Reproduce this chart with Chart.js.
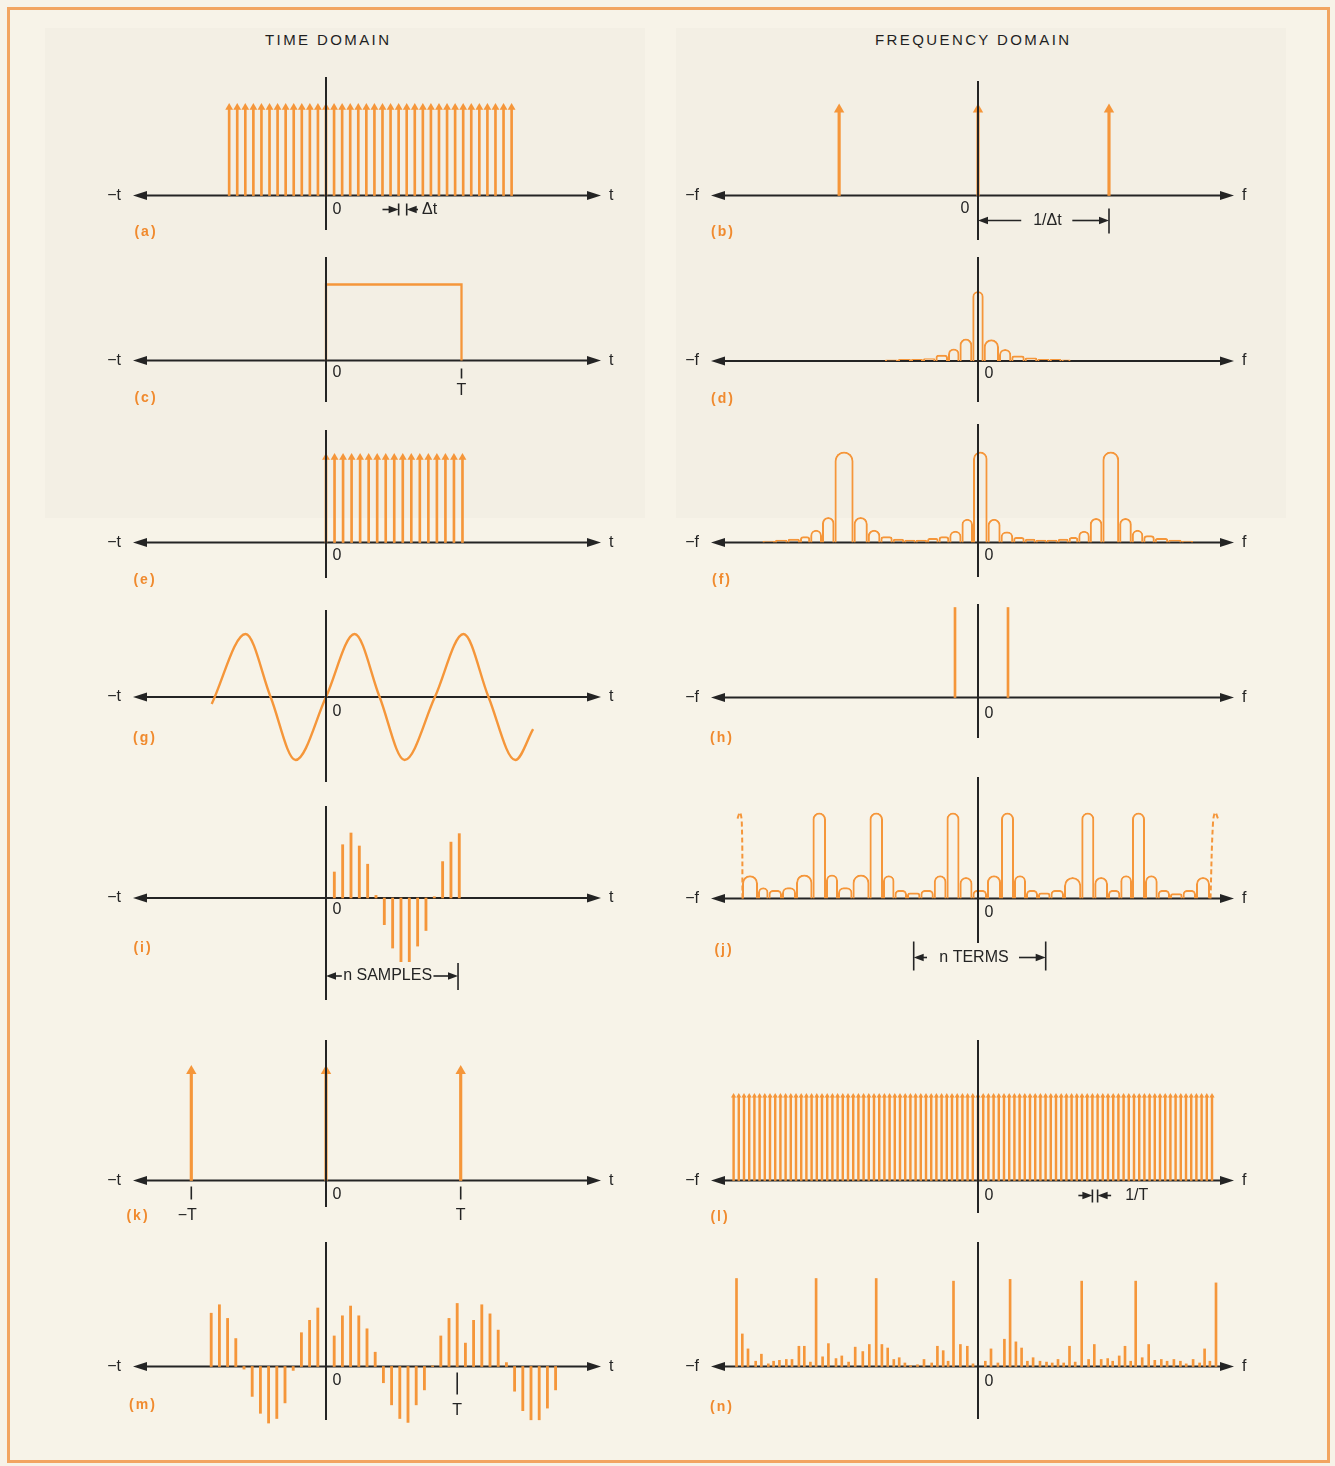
<!DOCTYPE html>
<html>
<head>
<meta charset="utf-8">
<script src="https://cdn.jsdelivr.net/npm/chart.js@4.4.0/dist/chart.umd.min.js"></script>
<style>
body { margin: 0; background: #fdfcf8; }
#page { position: relative; width: 1335px; height: 1466px; background: #f7f3e8; overflow: hidden; }
#frame { position: absolute; left: 7px; top: 7px; width: 1317px; height: 1450px; border: 3px solid #f2a561; }
.shade { position: absolute; background: rgba(90, 90, 80, 0.025); }
.title { position: absolute; top: 31px; font: 15px 'Liberation Sans', Arial, sans-serif; letter-spacing: 2.4px; color: #1f1f1f; white-space: nowrap; }
canvas { position: absolute; }
</style>
</head>
<body>
<div id="page">
  <div class="shade" style="left:45px;top:28px;width:600px;height:490px"></div>
  <div class="shade" style="left:676px;top:28px;width:610px;height:490px"></div>
  <div id="frame"></div>
  <div class="title" style="left:265px">TIME DOMAIN</div>
  <div class="title" style="left:875px">FREQUENCY DOMAIN</div>
</div>
<script>
// ---- values ----
// x values are in each panel's own unit (Δt, 1/Δt, T, 1/T or 10px lobe units), y values are normalised heights

// (a) sampling comb
const aTimes = [-12,-11,-10,-9,-8,-7,-6,-5,-4,-3,-2,-1,0,1,2,3,4,5,6,7,8,9,10,11,12,13,14,15,16,17,18,19,20,21,22,23]
const aHeight = 1
// (b) transform of the comb
const bFreqs = [-1.06, 0, 1]
const bHeights = [1, 1, 1]
// (c) rectangular window 0..T
const cTimes = [0, 0, 1, 1]
const cValues = [0, 1, 1, 0]
// (d) window transform: zeros between lobes and the height of each lobe
const dZeros = [-9.3, -8.0, -6.7, -5.5, -4.25, -3.0, -1.85, -0.57, 0.57, 2.1, 3.33, 4.67, 5.93, 7.17, 8.35, 9.26]
const dPeaks = [0.02, 0.03, 0.03, 0.04, 0.09, 0.18, 0.32, 1, 0.31, 0.17, 0.08, 0.05, 0.03, 0.03, 0.02]
// (e) windowed comb
const eTimes = [0,1,2,3,4,5,6,7,8,9,10,11,12,13,14,15,16]
const eHeight = 1
// (f) transform of the windowed comb
const fZeros = [-21.55, -20.3, -19.05, -17.8, -16.78, -15.6, -14.35, -12.44, -11.02, -9.76, -8.53, -7.38, -6.23, -5.09, -3.94, -2.87, -1.65, -0.5, 0.96, 2.26, 3.52, 4.67, 5.77, 6.87, 7.97, 9.07, 10.03, 11.18, 12.44, 14.12, 15.38, 16.53, 17.68, 19.02, 20.36, 21.51]
const fPeaks = [0.02, 0.03, 0.04, 0.07, 0.14, 0.28, 1, 0.28, 0.14, 0.07, 0.04, 0.03, 0.03, 0.05, 0.07, 0.13, 0.26, 1, 0.26, 0.12, 0.06, 0.04, 0.03, 0.03, 0.04, 0.06, 0.13, 0.27, 1, 0.27, 0.14, 0.08, 0.05, 0.03, 0.02]
// (g) sine wave: extremes and zero crossings
const gTimes = [-11.43, -8.04, -5.54, -3.04, 0, 2.86, 5.36, 7.86, 10.89, 13.75, 16.25, 18.93, 20.71]
const gValues = [-0.11, 1, 0, -1, 0, 1, 0, -1, 0, 1, 0, -1, -0.51]
// (h) its two spectral lines
const hFreqs = [-2.3, 3.0]
const hHeights = [1, 1]
// (i) n samples of the sine
const iTimes = [1,2,3,4,5,6,7,8,9,10,11,12,13,14,15,16]
const iValues = [0.4, 0.82, 1.0, 0.8, 0.52, 0.04, -0.41, -0.77, -0.98, -0.98, -0.74, -0.5, 0.02, 0.56, 0.86, 0.99]
// (j) transform of the sampled, windowed sine
const jZeros = [-23.6, -22.0, -20.95, -19.6, -18.2, -16.55, -15.2, -14.0, -12.55, -10.85, -9.5, -8.35, -7.1, -5.76, -4.42, -3.15, -1.85, -0.55, 0.9, 2.3, 3.6, 4.8, 6.0, 7.25, 8.6, 10.33, 11.63, 13.0, 14.23, 15.4, 16.7, 17.97, 19.2, 20.46, 21.8, 23.2]
const jPeaks = [0.27, 0.13, 0.1, 0.13, 0.28, 1, 0.28, 0.13, 0.28, 1, 0.27, 0.1, 0.07, 0.1, 0.27, 1, 0.25, 0.1, 0.27, 1, 0.27, 0.1, 0.07, 0.1, 0.25, 1, 0.25, 0.1, 0.27, 1, 0.27, 0.1, 0.06, 0.1, 0.25]
const jDashLeftFreqs = [-23.55, -23.62, -23.8, -24.05]
const jDashLeftValues = [0, 0.88, 1.0, 0.93]
const jDashRightFreqs = [23.25, 23.5, 23.72, 24.0]
const jDashRightValues = [0, 0.88, 1.0, 0.93]
// (k) period comb
const kTimes = [-1, 0, 1]
const kHeights = [1, 1, 1]
// (l) frequency comb, spacing 1/T
const lFreqs = [-47,-46,-45,-44,-43,-42,-41,-40,-39,-38,-37,-36,-35,-34,-33,-32,-31,-30,-29,-28,-27,-26,-25,-24,-23,-22,-21,-20,-19,-18,-17,-16,-15,-14,-13,-12,-11,-10,-9,-8,-7,-6,-5,-4,-3,-2,-1,0,1,2,3,4,5,6,7,8,9,10,11,12,13,14,15,16,17,18,19,20,21,22,23,24,25,26,27,28,29,30,31,32,33,34,35,36,37,38,39,40,41,42,43,44,45]
const lHeight = 1
// (m) periodic sampled signal
const mTimes = [-14,-13,-12,-11,-10,-9,-8,-7,-6,-5,-4,-3,-2,-1,1,2,3,4,5,6,7,8,9,10,11,12,13,14,15,16,17,18,19,20,21,22,23,24,25,26,27,28]
const mValues = [0.82, 0.95, 0.74, 0.43, -0.04, -0.46, -0.72, -0.87, -0.8, -0.56, -0.06, 0.52, 0.71, 0.9, 0.47, 0.78, 0.93, 0.78, 0.58, 0.22, -0.25, -0.59, -0.8, -0.86, -0.59, -0.36, 0.01, 0.47, 0.74, 0.97, 0.36, 0.71, 0.95, 0.81, 0.56, 0.06, -0.38, -0.68, -0.82, -0.82, -0.64, -0.36]
// (n) discrete transform
const nFreqs = [-24.15, -23.57, -23.0, -22.23, -21.66, -20.97, -20.44, -19.86, -19.17, -18.6, -17.91, -17.37, -16.76, -16.19, -15.54, -14.96, -14.2, -13.62, -12.94, -12.28, -11.52, -10.87, -10.18, -9.61, -9.03, -8.42, -7.88, -7.31, -6.74, -6.05, -5.4, -4.63, -4.06, -3.48, -2.99, -2.45, -1.76, -1.07, -0.5, 0.73, 1.3, 1.99, 2.64, 3.21, 3.79, 4.36, 4.94, 5.51, 6.2, 6.85, 7.42, 8.0, 8.57, 9.15, 9.72, 10.37, 11.06, 11.63, 12.32, 12.97, 13.47, 14.12, 14.7, 15.27, 15.77, 16.42, 17.07, 17.68, 18.33, 18.91, 19.59, 20.24, 20.82, 21.51, 22.16, 22.66, 23.19, 23.8]
const nValues = [1.0, 0.37, 0.2, 0.06, 0.14, 0.03, 0.06, 0.07, 0.08, 0.08, 0.23, 0.23, 0.05, 1.0, 0.11, 0.26, 0.09, 0.12, 0.05, 0.22, 0.17, 0.25, 1.0, 0.25, 0.21, 0.08, 0.1, 0.04, 0.01, 0.02, 0.08, 0.04, 0.23, 0.18, 0.06, 0.97, 0.25, 0.23, 0.03, 0.06, 0.2, 0.04, 0.31, 0.99, 0.28, 0.21, 0.06, 0.1, 0.06, 0.05, 0.04, 0.08, 0.04, 0.23, 0.05, 0.97, 0.08, 0.25, 0.08, 0.09, 0.06, 0.12, 0.23, 0.06, 0.97, 0.1, 0.25, 0.07, 0.08, 0.06, 0.08, 0.06, 0.03, 0.08, 0.04, 0.2, 0.06, 0.95]

// text
const timeAxisLabels = ['\u2212t', 't']
const freqAxisLabels = ['\u2212f', 'f']
const zeroLabel = '0'
const panelLetters = ['(a)','(b)','(c)','(d)','(e)','(f)','(g)','(h)','(i)','(j)','(k)','(l)','(m)','(n)']
const markLabels = ['\u0394t', '1/\u0394t', 'T', 'n SAMPLES', 'n TERMS', '\u2212T', '1/T']

// ---- styles ----
const orange = '#f5963a'
const ink = '#242424'
const letterColor = '#f08a2e'
const labelFont = "16px 'Liberation Sans', Arial, sans-serif"
const letterFont = "bold 14px 'Liberation Sans', Arial, sans-serif"

const page = document.getElementById('page')

// page position of each column: canvas box, arrow tips, vertical axis
const columns = [
    { x: 80, w: 560, L: 133, R: 601, axisX: 326 },
    { x: 660, w: 610, L: 711, R: 1234, axisX: 978 }
]

const arrowHead = (ctx, x, y, dir, len, half) => {
    ctx.beginPath()
    ctx.moveTo(x, y)
    ctx.lineTo(x - dir * len, y - half)
    ctx.lineTo(x - dir * len, y + half)
    ctx.closePath()
    ctx.fill()
}

const axesPlugin = (p, index) => ({
    id: 'axes' + index,
    beforeDatasetsDraw(chart) {
        const { ctx, chartArea: a, scales } = chart
        const y0 = scales.y.getPixelForValue(0)
        ctx.save()
        ctx.strokeStyle = ink
        ctx.fillStyle = ink
        ctx.lineWidth = 2
        ctx.beginPath()
        ctx.moveTo(a.left + 10, y0)
        ctx.lineTo(a.right - 10, y0)
        ctx.stroke()
        arrowHead(ctx, a.left, y0, -1, 14, 4.5)
        arrowHead(ctx, a.right, y0, 1, 14, 4.5)
        ctx.restore()
    },
    afterDatasetsDraw(chart) {
        const { ctx, chartArea: a, scales } = chart
        const col = columns[p.col]
        const x0 = scales.x.getPixelForValue(0)
        const y0 = scales.y.getPixelForValue(0)
        const names = p.col ? freqAxisLabels : timeAxisLabels
        ctx.save()
        ctx.strokeStyle = ink
        ctx.fillStyle = ink
        ctx.lineWidth = 2
        ctx.beginPath()
        ctx.moveTo(x0, a.top)
        ctx.lineTo(x0, a.bottom)
        ctx.stroke()

        ctx.font = labelFont
        ctx.textBaseline = 'middle'
        ctx.textAlign = 'right'
        ctx.fillText(names[0], a.left - 12, y0)
        ctx.textAlign = 'left'
        ctx.fillText(names[1], a.right + 8, y0)
        ctx.textAlign = 'center'
        ctx.fillText(zeroLabel, x0 + (p.zeroDx || 11), y0 + p.zeroDy)

        ctx.lineWidth = 1.6
        ;(p.notes || []).forEach(n => {
            const x = scales.x.getPixelForValue(n.x)
            if (n.kind === 'tick') {
                ctx.beginPath()
                ctx.moveTo(x, y0 + n.dy0)
                ctx.lineTo(x, y0 + n.dy1)
                ctx.stroke()
            } else if (n.kind === 'arrow') {
                const x1 = scales.x.getPixelForValue(n.to)
                const dir = x1 > x ? 1 : -1
                ctx.beginPath()
                ctx.moveTo(x, y0 + n.dy)
                ctx.lineTo(x1 - dir * 8, y0 + n.dy)
                ctx.stroke()
                arrowHead(ctx, x1, y0 + n.dy, dir, 10, 3.8)
            } else {
                ctx.textAlign = n.align || 'center'
                ctx.fillText(markLabels[n.label], x + (n.dx || 0), y0 + n.dy)
            }
        })

        ctx.fillStyle = letterColor
        ctx.font = letterFont
        ctx.letterSpacing = '2px'
        ctx.textAlign = 'center'
        ctx.fillText(panelLetters[index], p.letterX - col.x, y0 + p.letterDy)
        ctx.restore()
    }
})

// ---- dataset builders ----
const pairs = (xs, ys) => xs.map((x, i) => ({ x, y: Array.isArray(ys) ? ys[i] : ys }))

const stems = (xs, ys, width) => ({
    type: 'bar',
    data: pairs(xs, ys),
    backgroundColor: orange,
    borderWidth: 0,
    barThickness: width,
    order: 2,
    clip: false
})

const heads = (xs, ys, r) => ({
    type: 'line',
    data: pairs(xs, ys),
    showLine: false,
    pointStyle: 'triangle',
    pointRadius: r,
    pointBackgroundColor: orange,
    pointBorderWidth: 0,
    order: 1,
    clip: false
})

const curve = (xs, ys, extra) => Object.assign({
    type: 'line',
    data: pairs(xs, ys),
    borderColor: orange,
    borderWidth: 2.3,
    pointRadius: 0,
    tension: 0,
    clip: false
}, extra)

// each lobe is an open arch standing between two zeros: an outlined bar with a round top
const lobes = (zeros, peaks, xUnit) => peaks.map((h, i) => ({
    type: 'bar',
    data: [{ x: (zeros[i] + zeros[i + 1]) / 2, y: h }],
    barThickness: (zeros[i + 1] - zeros[i]) * xUnit,
    backgroundColor: 'rgba(0,0,0,0)',
    borderColor: orange,
    borderWidth: 2,
    borderSkipped: 'bottom',
    borderRadius: 999,
    inflateAmount: 0,
    clip: false
}))

// ---- panel layout (page pixels) ----
const panels = [
    { col: 0, axisY: 195.5, vTop: 77, vBot: 230, xUnit: 8.07, yUnit: 88, zeroDy: 14, letterX: 146, letterDy: 37,
      datasets: p => [heads(aTimes, aHeight, 4.5), stems(aTimes, aHeight, 2)],
      notes: [
        { kind: 'tick', x: 9, dy0: 8, dy1: 20 }, { kind: 'tick', x: 10, dy0: 8, dy1: 20 },
        { kind: 'arrow', x: 7.0, to: 9, dy: 14 }, { kind: 'arrow', x: 11.4, to: 10, dy: 14 },
        { kind: 'text', x: 11.9, dy: 14, label: 0, align: 'left' }
      ] },
    { col: 1, axisY: 195.5, vTop: 81, vBot: 240, xUnit: 131, yUnit: 86, zeroDx: -13, zeroDy: 13, letterX: 723, letterDy: 37,
      datasets: p => [heads(bFreqs, bHeights, 6), stems(bFreqs, bHeights, 2.5)],
      notes: [
        { kind: 'tick', x: 1, dy0: 13, dy1: 38 },
        { kind: 'arrow', x: 0.33, to: 0, dy: 25 }, { kind: 'arrow', x: 0.72, to: 1, dy: 25 },
        { kind: 'text', x: 0.53, dy: 25, label: 1 }
      ] },
    { col: 0, axisY: 360.5, vTop: 257, vBot: 402, xUnit: 135.5, yUnit: 76, zeroDy: 12, letterX: 146, letterDy: 38,
      datasets: p => [curve(cTimes, cValues)],
      notes: [ { kind: 'tick', x: 1, dy0: 8, dy1: 18 }, { kind: 'text', x: 1, dy: 30, label: 2 } ] },
    { col: 1, axisY: 361, vTop: 257, vBot: 402, xUnit: 10, yUnit: 70, zeroDy: 13, letterX: 723, letterDy: 38,
      datasets: p => lobes(dZeros, dPeaks, p.xUnit) },
    { col: 0, axisY: 542.5, vTop: 430, vBot: 578, xUnit: 8.53, yUnit: 85, zeroDy: 13, letterX: 145, letterDy: 38,
      datasets: p => [heads(eTimes, eHeight, 4.5), stems(eTimes, eHeight, 2)] },
    { col: 1, axisY: 542.5, vTop: 424, vBot: 577, xUnit: 10, yUnit: 91, zeroDy: 13, letterX: 722, letterDy: 38,
      datasets: p => lobes(fZeros, fPeaks, p.xUnit) },
    { col: 0, axisY: 697, vTop: 610, vBot: 782, xUnit: 10, yUnit: 63, zeroDy: 15, letterX: 145, letterDy: 41,
      datasets: p => [curve(gTimes, gValues, { cubicInterpolationMode: 'monotone', borderWidth: 2.4 })] },
    { col: 1, axisY: 697.5, vTop: 604, vBot: 738, xUnit: 10, yUnit: 90, zeroDy: 16, letterX: 722, letterDy: 41,
      datasets: p => [stems(hFreqs, hHeights, 2)] },
    { col: 0, axisY: 898, vTop: 806, vBot: 1000, xUnit: 8.33, yUnit: 65, zeroDy: 12, letterX: 143, letterDy: 50,
      datasets: p => [stems(iTimes, iValues, 2.2)],
      notes: [
        { kind: 'tick', x: 15.85, dy0: 65, dy1: 92 },
        { kind: 'arrow', x: 1.9, to: 0, dy: 78 }, { kind: 'arrow', x: 12.9, to: 15.85, dy: 78 },
        { kind: 'text', x: 7.4, dy: 78, label: 3 }
      ] },
    { col: 1, axisY: 898.5, vTop: 777, vBot: 943, xUnit: 10, yUnit: 86, zeroDy: 14, letterX: 724, letterDy: 52,
      datasets: p => lobes(jZeros, jPeaks, p.xUnit).concat([
        curve(jDashLeftFreqs, jDashLeftValues, { borderDash: [5, 3], tension: 0.4, borderWidth: 2 }),
        curve(jDashRightFreqs, jDashRightValues, { borderDash: [5, 3], tension: 0.4, borderWidth: 2 })
      ]),
      notes: [
        { kind: 'tick', x: -6.43, dy0: 43, dy1: 72 }, { kind: 'tick', x: 6.77, dy0: 43, dy1: 72 },
        { kind: 'arrow', x: -5.1, to: -6.43, dy: 59 }, { kind: 'arrow', x: 4.1, to: 6.77, dy: 59 },
        { kind: 'text', x: -0.4, dy: 59, label: 4 }
      ] },
    { col: 0, axisY: 1180.5, vTop: 1040, vBot: 1207, xUnit: 134.7, yUnit: 109.5, zeroDy: 14, letterX: 138, letterDy: 36,
      datasets: p => [heads(kTimes, kHeights, 6), stems(kTimes, kHeights, 2.5)],
      notes: [
        { kind: 'tick', x: -1, dy0: 6, dy1: 19 }, { kind: 'tick', x: 1, dy0: 6, dy1: 19 },
        { kind: 'text', x: -1, dx: -4, dy: 35, label: 5 }, { kind: 'text', x: 1, dy: 35, label: 2 }
      ] },
    { col: 1, axisY: 1180.5, vTop: 1040, vBot: 1213, xUnit: 5.2, yUnit: 84.5, zeroDy: 15, letterX: 720, letterDy: 37,
      datasets: p => [heads(lFreqs, lHeight, 3), stems(lFreqs, lHeight, 1.8)],
      notes: [
        { kind: 'tick', x: 22, dy0: 9, dy1: 22 }, { kind: 'tick', x: 23, dy0: 9, dy1: 22 },
        { kind: 'arrow', x: 19.3, to: 22, dy: 15 }, { kind: 'arrow', x: 25.6, to: 23, dy: 15 },
        { kind: 'text', x: 28.3, dy: 15, label: 6, align: 'left' }
      ] },
    { col: 0, axisY: 1366.5, vTop: 1242, vBot: 1420, xUnit: 8.2, yUnit: 65, zeroDy: 14, letterX: 143, letterDy: 39,
      datasets: p => [stems(mTimes, mValues, 2.2)],
      notes: [ { kind: 'tick', x: 16, dy0: 6, dy1: 28 }, { kind: 'text', x: 16, dy: 44, label: 2 } ] },
    { col: 1, axisY: 1366.5, vTop: 1242, vBot: 1419, xUnit: 10, yUnit: 88, zeroDy: 15, letterX: 722, letterDy: 41,
      datasets: p => [stems(nFreqs, nValues, 2)] }
]

const padTop = 12
const padBottom = 45

panels.forEach((p, index) => {
    const col = columns[p.col]
    const canvas = document.createElement('canvas')
    canvas.width = col.w
    canvas.height = p.vBot - p.vTop + padTop + padBottom
    canvas.style.left = col.x + 'px'
    canvas.style.top = (p.vTop - padTop) + 'px'
    page.appendChild(canvas)

    new Chart(canvas, {
        type: 'line',
        data: { datasets: p.datasets(p) },
        options: {
            responsive: false,
            animation: false,
            events: [],
            devicePixelRatio: 1,
            layout: { padding: { left: col.L - col.x, right: col.x + col.w - col.R, top: padTop, bottom: padBottom } },
            plugins: { legend: { display: false }, tooltip: { enabled: false } },
            scales: {
                // stacked index axis keeps every bar centred on its own x value
                x: { type: 'linear', display: false, offset: false, stacked: true, min: -(col.axisX - col.L) / p.xUnit, max: (col.R - col.axisX) / p.xUnit },
                y: { type: 'linear', display: false, min: -(p.vBot - p.axisY) / p.yUnit, max: (p.axisY - p.vTop) / p.yUnit }
            }
        },
        plugins: [axesPlugin(p, index)]
    })
})
</script>
</body>
</html>
